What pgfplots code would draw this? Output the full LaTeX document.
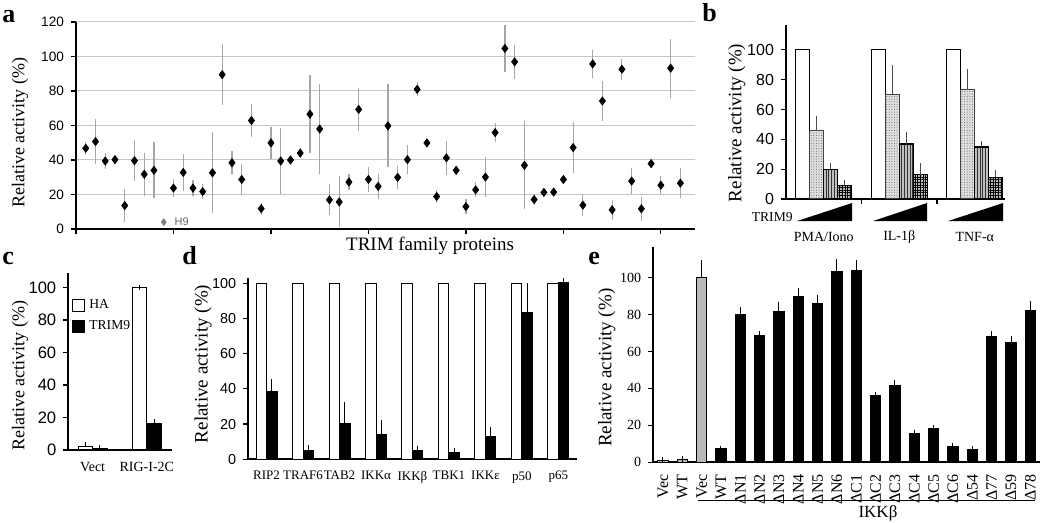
\documentclass[border=0pt]{standalone}
\usepackage{fontspec}
\setmainfont{Liberation Serif}
\setsansfont{Liberation Sans}
\usepackage{pgfplots}
\usepackage{pgfplotstable}
\pgfplotsset{compat=1.18}
\usetikzlibrary{patterns.meta}

% a: TRIM screen (position, activity, error)
\pgfplotstableread{
x y e
1 46.8 3.7
2 50.7 13
3 39.4 4.5
4 40.2 1
5 13.6 9.7
6 39.6 11.7
7 31.7 12.6
8 34.0 16.3
10 23.7 5
11 32.8 10.6
12 23.7 4.8
13 21.7 4.6
14 32.6 23.4
15 89.5 17.7
16 38.4 6.8
17 28.7 8.8
18 62.9 9.7
19 11.8 3.5
20 49.9 9.5
21 39.4 19
22 40.0 1
23 44.0 3
24 66.6 22.7
25 58.0 26
26 16.9 9
27 15.7 14.8
28 27.2 4.5
29 69.3 12.6
30 28.7 7
31 24.7 7.3
32 59.8 24
33 29.9 6.7
34 40.2 8.5
35 81.0 4
36 49.9 1
37 18.8 3.6
38 41.2 9.7
39 34.0 2.5
40 13.0 4.2
41 22.7 4.3
42 30.1 11.5
43 55.9 5.6
44 104.7 13.7
45 96.9 9.7
46 36.9 25.5
47 17.1 3
48 21.2 1
49 21.4 1
50 28.7 1
51 47.2 15
52 13.8 6.2
53 95.7 8.3
54 74.2 11.5
55 11.1 5.8
56 92.6 6.1
57 27.8 7.5
58 11.7 6.8
59 37.9 1
60 25.4 5.2
61 93.2 17.2
62 26.6 8.8
}\trimdata

% b: stimuli x TRIM9 dose
\pgfplotstableread{
x d0 d1 e1 d2 e2 d3 e3
0 100 45.9 8.1 20.0 2.8 9.2 2.0
1 100 69.8 19.0 36.9 6.7 16.3 6.5
2 100 73.2 12.7 34.9 2.5 14.5 3.4
}\stimdata

% d: HA vs TRIM9
\pgfplotstableread{
x ha tr e
0 100 38.6 5.7
1 100 5.1 1.3
2 100 20.5 10.6
3 100 14.0 7.0
4 100 4.8 1.5
5 100 3.9 1.3
6 100 13.2 3.8
7 100 83.2 15.2
8 100 100.6 0.8
}\sigdata

% e: IKKbeta mutants
\pgfplotstableread{
x y e
0 1.0 0.3
1 1.5 0.3
2 100 8
}\egray
\pgfplotstableread{
x y e
3 7.4 0.2
4 80.0 2.9
5 68.6 0.9
6 81.6 3.8
7 89.7 3.5
8 85.8 3.6
9 103.4 5.1
10 104.0 4.0
11 35.9 0.8
12 41.8 1.2
13 15.5 0.7
14 18.4 0.3
15 8.3 0.9
16 7.0 0.2
17 68.0 1.7
18 65.0 2.2
19 82.3 3.7
}\eblack

\pgfplotsset{
  panel/.style={
    scale only axis, anchor=south west, clip=false, enlargelimits=false,
    axis lines*=left,
    every outer x axis line/.append style={-},
    every outer y axis line/.append style={-},
    every inner x axis line/.append style={-},
    every inner y axis line/.append style={-},
    axis line style={line width=0.9pt, -},
    tick align=outside, major tick length=2.5pt,
    tick style={black, line width=0.6pt},
    /pgf/number format/assume math mode=true,
    ylabel={Relative activity (\%)},
  },
  sansticks/.style={tick label style={font=\sffamily\fontsize{#1}{#1}\selectfont}},
  ylab/.style n args={3}{ylabel style={at={(axis description cs:#1,#2)}, anchor=center, font=\fontsize{#3}{#3}\selectfont}},
  ebar/.style={error bars/.cd, y dir=plus, y explicit, error mark=-,
    error mark options={mark size=1.3pt, line width=0.5pt, black},
    error bar style={line width=0.5pt, black}},
}

\begin{document}
\begin{tikzpicture}
\useasboundingbox (0,0) rectangle (525pt,261.5pt);

% ---------- a ----------
\begin{axis}[panel, at={(38pt,147pt)}, width=309.5pt, height=103.5pt,
  xmin=0, xmax=63.5, ymin=0, ymax=120,
  ytick={0,20,...,120}, xtick={0,10,...,60}, xticklabels={},
  ymajorgrids, grid style={gray!45, line width=0.5pt},
  sansticks=6.8, ylab={-0.0905}{0.466}{9},
  xlabel={TRIM family proteins},
  xlabel style={at={(axis description cs:0.572,-0.082)}, anchor=center, font=\fontsize{9.5}{10}\selectfont}]
\addplot[only marks, mark=diamond*, mark size=2pt, black,
  error bars/.cd, y dir=both, y explicit, error mark=none,
  error bar style={gray!70, line width=0.6pt}]
  table[x=x, y=y, y error=e] {\trimdata};
\addplot[only marks, mark=diamond*, mark size=1.6pt, gray,
  error bars/.cd, y dir=both, y explicit, error mark=none,
  error bar style={gray!70, line width=0.5pt}]
  coordinates {(9,4) +- (0,2)};
\node[anchor=west, gray!80!black, font=\sffamily\fontsize{5.5}{6}\selectfont] at (axis cs:9.4,4) {H9};
\end{axis}

% ---------- b ----------
\begin{axis}[panel, at={(393pt,162pt)}, width=109.5pt, height=87pt,
  xmin=-0.5, xmax=2.4, ymin=0, ymax=116.7,
  ytick={0,20,...,100}, xtick={0.5,1.5}, xticklabels={},
  ybar=0pt, bar width=7pt,
  sansticks=8, ylab={-0.224}{0.437}{9.5}]
\addplot[fill=white, draw=black, line width=0.6pt] table[x=x, y=d0] {\stimdata};
\addplot[fill=gray!25, draw=gray!50!black, line width=0.5pt,
  postaction={pattern={Dots[distance=1.3pt, radius=0.25pt]}, pattern color=gray!70!black},
  error bars/.cd, y dir=plus, y explicit, error mark=-,
  error mark options={mark size=1pt, gray!60!black}, error bar style={gray!60!black, line width=0.4pt}]
  table[x=x, y=d1, y error=e1] {\stimdata};
\addplot[fill=gray!50, draw=black, line width=0.6pt,
  postaction={pattern={Lines[angle=90, distance=1.4pt, line width=0.5pt]}, pattern color=black!80},
  error bars/.cd, y dir=plus, y explicit, error mark=-,
  error mark options={mark size=1pt, gray!60!black}, error bar style={gray!60!black, line width=0.4pt}]
  table[x=x, y=d2, y error=e2] {\stimdata};
\addplot[fill=gray!55, draw=black, line width=0.5pt,
  postaction={pattern={Hatch[distance=1.3pt, line width=0.4pt]}, pattern color=black},
  error bars/.cd, y dir=plus, y explicit, error mark=-,
  error mark options={mark size=1pt, gray!60!black}, error bar style={gray!60!black, line width=0.4pt}]
  table[x=x, y=d3, y error=e3] {\stimdata};
\fill (axis cs:-0.354,-14.8) -- (axis cs:0.375,-14.8) -- (axis cs:0.375,-2.7) -- cycle;
\fill (axis cs:0.652,-14.8) -- (axis cs:1.368,-14.8) -- (axis cs:1.368,-2.7) -- cycle;
\fill (axis cs:1.646,-14.8) -- (axis cs:2.374,-14.8) -- (axis cs:2.374,-2.7) -- cycle;
\node[anchor=east, font=\fontsize{6.8}{7}\selectfont, inner sep=1pt] at (axis cs:-0.38,-12) {TRIM9};
\node[font=\fontsize{7}{7}\selectfont] at (axis cs:0,-25.5) {PMA/Iono};
\node[font=\fontsize{7}{7}\selectfont] at (axis cs:1,-25.5) {IL-1β};
\node[font=\fontsize{7}{7}\selectfont] at (axis cs:2,-25.5) {TNF-α};
\end{axis}

% ---------- c ----------
\begin{axis}[panel, at={(34.15pt,36.5pt)}, width=52pt, height=88.5pt,
  xmin=-0.45, xmax=1.47, ymin=0, ymax=109,
  ytick={0,20,...,100}, xtick={0,1}, xticklabels={Vect,RIG-I-2C},
  xtick style={draw=none},
  extra x ticks={-0.45,0.5,1.47}, extra x tick labels={},
  extra x tick style={tick style={draw=black, line width=0.6pt}},
  x tick label style={font=\fontsize{7}{7}\selectfont},
  y tick label style={font=\sffamily\fontsize{8.3}{8.3}\selectfont},
  ybar=0pt, bar width=7.25pt,
  ylab={-0.464}{0.418}{9},
  legend style={draw=none, fill=none, at={(0.035,0.876)}, anchor=north west,
    font=\fontsize{6.8}{7}\selectfont, row sep=0.5pt, inner sep=0pt},
  legend cell align=left,
  legend image code/.code={\draw[#1] (0pt,-3pt) rectangle (6pt,3pt);}]
\addplot[fill=white, draw=black, line width=0.5pt, ebar] coordinates {(0,2) +- (0,1.6) (1,100) +- (0,0)};
\addplot[fill=black, draw=black, line width=0.5pt, ebar] coordinates {(0,1) +- (0,0.6) (1,16.5) +- (0,1)};
\legend{HA,TRIM9}
\end{axis}

% ---------- d ----------
\begin{axis}[panel, at={(124.15pt,31.85pt)}, width=164.2pt, height=90.65pt,
  xmin=-0.5, xmax=8.5, ymin=0, ymax=103,
  ytick={0,20,...,100}, xtick={0,...,8},
  xticklabels={RIP2,TRAF6,TAB2,IKKα,IKKβ,TBK1,IKKε,p50,p65},
  xtick style={draw=none},
  extra x ticks={-0.5,0.5,...,8.5}, extra x tick labels={},
  extra x tick style={tick style={draw=black, line width=0.6pt}},
  x tick label style={font=\fontsize{6.5}{7}\selectfont},
  y tick label style={font=\sffamily\fontsize{7.2}{7.2}\selectfont},
  ybar=0pt, bar width=5.25pt,
  ylab={-0.138}{0.526}{9.5}]
\addplot[fill=white, draw=black, line width=0.5pt] table[x=x, y=ha] {\sigdata};
\addplot[fill=black, draw=black, line width=0.5pt, ebar] table[x=x, y=tr, y error=e] {\sigdata};
\end{axis}

% ---------- e ----------
\begin{axis}[panel, at={(326.65pt,30.35pt)}, width=193.35pt, height=107.5pt,
  xmin=-0.5, xmax=19.5, ymin=0, ymax=116.4,
  ytick={0,20,...,100}, xtick={0,...,19},
  xticklabels={Vec,WT,Vec,WT,ΔN1,ΔN2,ΔN3,ΔN4,ΔN5,ΔN6,ΔC1,ΔC2,ΔC3,ΔC4,ΔC5,ΔC6,Δ54,Δ77,Δ59,Δ78},
  xtick style={draw=none},
  extra x ticks={-0.5,0.5,...,19.5}, extra x tick labels={},
  extra x tick style={tick style={draw=black, line width=0.6pt}},
  x tick label style={font=\fontsize{8}{8}\selectfont, rotate=90, anchor=east},
  y tick label style={font=\fontsize{7}{7}\selectfont},
  ybar, bar width=5.3pt,
  ylab={-0.12}{0.44}{9.5}]
\addplot[bar shift=0pt, fill=gray!55, draw=black, line width=0.5pt, ebar] table[x=x, y=y, y error=e] {\egray};
\addplot[bar shift=0pt, fill=black, draw=black, line width=0.5pt, ebar] table[x=x, y=y, y error=e] {\eblack};
\draw[line width=0.6pt] (axis cs:1.81,-20.8) -- (axis cs:19.25,-20.8);
\node[font=\fontsize{8.5}{9}\selectfont] at (axis cs:11.12,-27.4) {IKKβ};
\end{axis}

% panel letters
\node[anchor=base west, inner sep=0pt, font=\bfseries\fontsize{13}{13}\selectfont] at (1pt,250pt) {a};
\node[anchor=base west, inner sep=0pt, font=\bfseries\fontsize{13}{13}\selectfont] at (351pt,250.5pt) {b};
\node[anchor=base west, inner sep=0pt, font=\bfseries\fontsize{13}{13}\selectfont] at (1pt,129pt) {c};
\node[anchor=base west, inner sep=0pt, font=\bfseries\fontsize{13}{13}\selectfont] at (91pt,129pt) {d};
\node[anchor=base west, inner sep=0pt, font=\bfseries\fontsize{13}{13}\selectfont] at (294pt,129pt) {e};
\end{tikzpicture}
\end{document}
